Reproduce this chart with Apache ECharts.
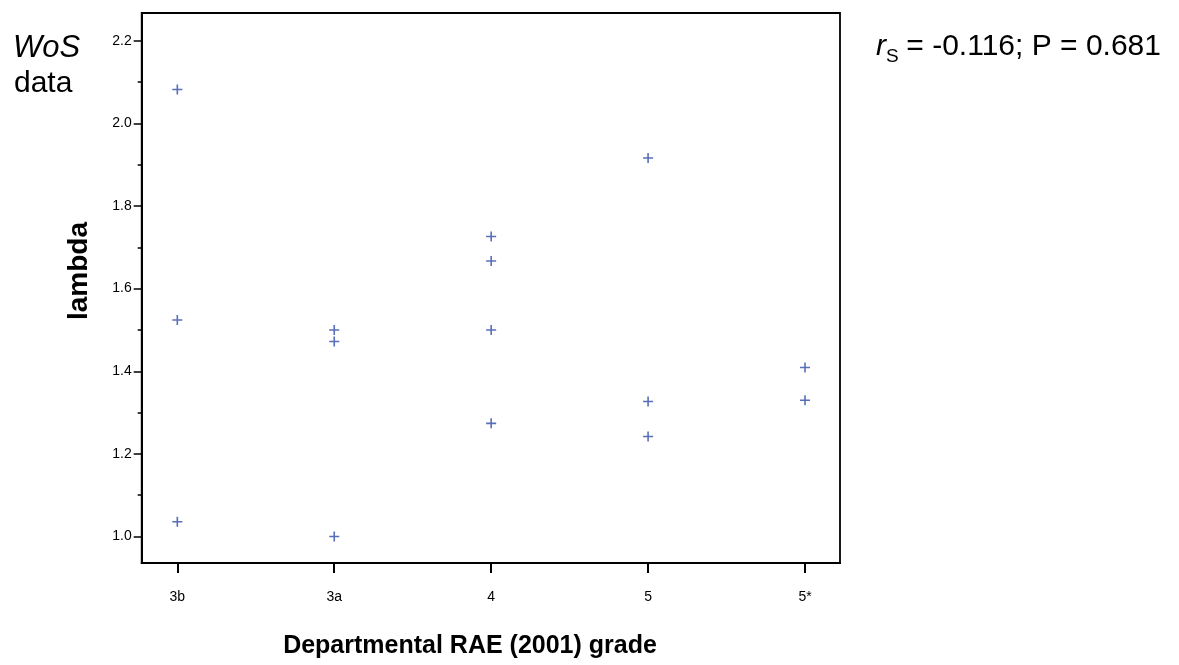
<!DOCTYPE html>
<html>
<head>
<meta charset="utf-8">
<script src="https://cdn.jsdelivr.net/npm/echarts@6/dist/echarts.min.js"></script>
<style>
  html, body { margin: 0; padding: 0; background: #fff; }
  #main { width: 1179px; height: 665px; }
</style>
</head>
<body>
<div id="main"></div>
<script>
// RAE grade categories, placed at 1..5 on the x axis
var grades = ['3b', '3a', '4', '5', '5*'];
var gradePos = [1, 2, 3, 4, 5];
// one entry per department
var pointGrade = [1, 1, 1, 2, 2, 2, 3, 3, 3, 3, 4, 4, 4, 5, 5];
var lambda = [2.082, 1.524, 1.036, 1.500, 1.472, 1.000, 1.726, 1.667, 1.500, 1.274, 1.916, 1.327, 1.242, 1.409, 1.330];
var yMajor = [1.0, 1.2, 1.4, 1.6, 1.8, 2.0, 2.2];
var yMinor = [1.1, 1.3, 1.5, 1.7, 1.9, 2.1];

var FONT = '"Liberation Sans", Arial, sans-serif';

var points = [];
for (var i = 0; i < lambda.length; i++) {
    points.push([pointGrade[i], lambda[i]]);
}

var dom = document.getElementById('main');
var myChart = echarts.init(dom);
var option;

var yBase = {
    type: 'value',
    min: 0.936,
    max: 2.267,
    position: 'left',
    splitLine: {show: false}
};

option = {
    animation: false,
    backgroundColor: '#fff',
    grid: {
        left: 141.7, right: 339, top: 13, bottom: 102,
        show: true, borderColor: '#000', borderWidth: 1.8,
        backgroundColor: 'transparent'
    },
    xAxis: {
        type: 'value',
        min: 0.773,
        max: 5.223,
        axisLine: {show: true, lineStyle: {color: '#000', width: 2}},
        axisTick: {show: true, length: 10, customValues: gradePos, lineStyle: {color: '#000', width: 2}},
        axisLabel: {
            customValues: gradePos,
            margin: 27,
            color: '#000',
            fontFamily: FONT,
            fontSize: 14,
            formatter: function (v) { return grades[Math.round(v) - 1]; }
        },
        splitLine: {show: false}
    },
    yAxis: [
        Object.assign({}, yBase, {
            axisLine: {show: true, lineStyle: {color: '#000', width: 2}},
            axisTick: {show: true, length: 8, customValues: yMajor, lineStyle: {color: '#000', width: 1.5}},
            axisLabel: {
                customValues: yMajor,
                margin: 10,
                color: '#000',
                fontFamily: FONT,
                fontSize: 14,
                padding: [5, 0, 0, 0],
                formatter: function (v) { return v.toFixed(1); }
            }
        }),
        Object.assign({}, yBase, {
            axisLine: {show: false},
            axisTick: {show: true, length: 4, customValues: yMinor, lineStyle: {color: '#000', width: 1.5}},
            axisLabel: {show: false}
        })
    ],
    series: [{
        type: 'scatter',
        data: points,
        symbol: 'path://M0,4.2h10v1.6h-10z M4.2,0h1.6v10h-1.6z',
        symbolSize: 10,
        itemStyle: {color: '#2f4aa8'}
    }],
    graphic: [
        {type: 'text', x: 13, y: 48, style: {text: 'WoS', font: 'italic 31px ' + FONT, fill: '#000', align: 'left', verticalAlign: 'middle'}},
        {type: 'text', x: 14, y: 84, style: {text: 'data', font: '30px ' + FONT, fill: '#000', align: 'left', verticalAlign: 'middle'}},
        {type: 'text', x: 876, y: 47, style: {text: 'r', font: 'italic 30px ' + FONT, fill: '#000', align: 'left', verticalAlign: 'middle'}},
        {type: 'text', x: 886, y: 57, style: {text: 'S', font: '19px ' + FONT, fill: '#000', align: 'left', verticalAlign: 'middle'}},
        {type: 'text', x: 898, y: 47, style: {text: ' = -0.116; P = 0.681', font: '30px ' + FONT, fill: '#000', align: 'left', verticalAlign: 'middle'}},
        {type: 'text', x: 79, y: 271, rotation: Math.PI / 2, style: {text: 'lambda', font: 'bold 28px ' + FONT, fill: '#000', align: 'center', verticalAlign: 'middle'}},
        {type: 'text', x: 470, y: 646, style: {text: 'Departmental RAE (2001) grade', font: 'bold 25px ' + FONT, fill: '#000', align: 'center', verticalAlign: 'middle'}}
    ]
};

if (option && typeof option === 'object') {
    myChart.setOption(option);
}
</script>
</body>
</html>
